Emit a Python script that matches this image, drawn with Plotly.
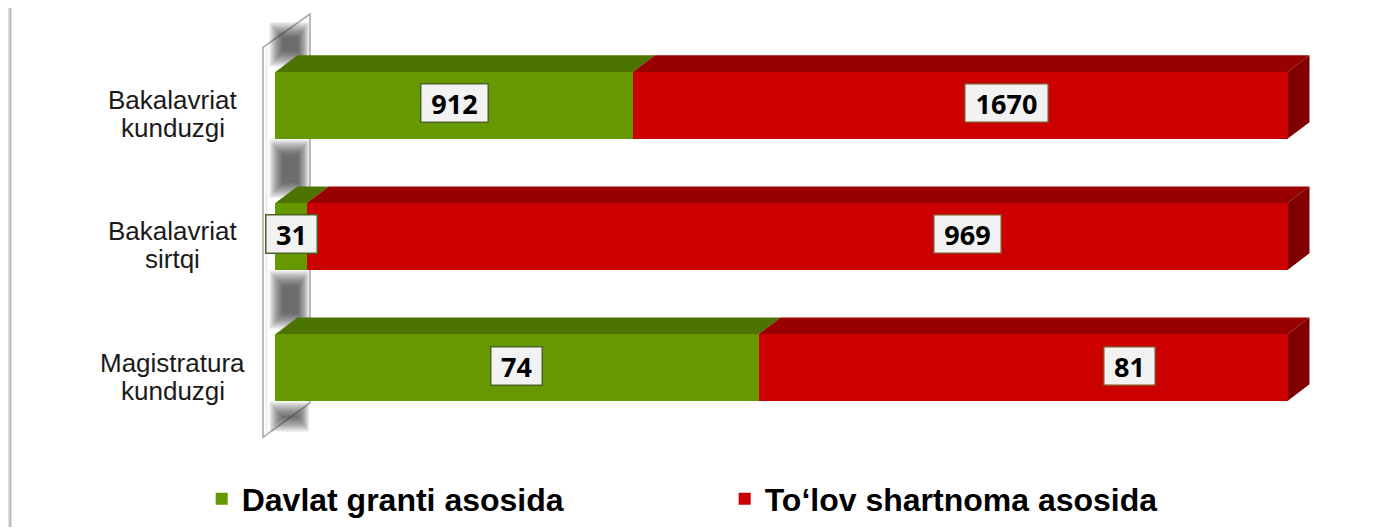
import plotly.graph_objects as go

# Data
categories = ["Bakalavriat kunduzgi", "Bakalavriat sirtqi", "Magistratura kunduzgi"]
grant = [912, 31, 74]
contract = [1670, 969, 81]
series_names = ["Davlat granti asosida", "To‘lov shartnoma asosida"]

# where the red labels sit (percent of bar length)
contract_label_pos = [72.2, 68.4, 84.4]

# colours
GREEN = "#669900"
GREEN_TOP = "#4d7300"
RED = "#cc0000"
RED_TOP = "#990000"
RED_SIDE = "#800000"

BAR_W = 0.51      # bar thickness (category units)
DX = 2.17         # 3d depth along x (percent units)
DY = 0.127        # 3d depth along y (category units)

fig = go.Figure()
fig.add_trace(go.Bar(y=categories, x=grant, name=series_names[0], orientation="h",
                     marker=dict(color=GREEN, line=dict(width=0)), width=BAR_W))
fig.add_trace(go.Bar(y=categories, x=contract, name=series_names[1], orientation="h",
                     marker=dict(color=RED, line=dict(width=0)), width=BAR_W))

shapes = []

# back wall with soft shadows in the gaps
wall = "M -1.22,-0.442 L 3.42,-0.697 L 3.42,2.27 L -1.22,2.532 Z"
shapes.append(dict(type="path", path=wall, xref="x", yref="y", layer="below",
                   fillcolor="white", line=dict(color="#a6a6a6", width=1.5)))
shapes.append(dict(type="line", xref="x", yref="y", layer="below",
                   x0=-0.85, x1=-0.85, y0=-0.46, y1=2.51,
                   line=dict(color="#e0e0e0", width=1)))
n = len(categories)
gaps = [(-0.64, -0.5 * BAR_W - 0.04)]
for i in range(n - 1):
    gaps.append((i + 0.5 * BAR_W, i + 1 - 0.5 * BAR_W - 0.04))
gaps.append((n - 1 + 0.5 * BAR_W, 2.49))
for g0, g1 in gaps:
    for k in range(14):
        shapes.append(dict(type="rect", xref="x", yref="y", layer="below",
                           x0=-0.6 + 0.1 * k, x1=3.35 - 0.085 * k,
                           y0=g0 + 0.005 + 0.009 * k, y1=g1 - 0.009 * k,
                           fillcolor="rgba(45,45,45,0.075)", line=dict(width=0)))

# 3d top / side faces computed from the percentages
for i, cat in enumerate(categories):
    tot = grant[i] + contract[i]
    p_g = grant[i] / tot * 100
    yt = i - BAR_W / 2
    yb = i + BAR_W / 2
    for x0, x1, col in [(0, p_g, GREEN_TOP), (p_g, 100, RED_TOP)]:
        shapes.append(dict(
            type="path", xref="x", yref="y", layer="below",
            path=f"M {x0},{yt} L {x1},{yt} L {x1 + DX},{yt - DY} L {x0 + DX},{yt - DY} Z",
            fillcolor=col, line=dict(width=0)))
    shapes.append(dict(
        type="path", xref="x", yref="y", layer="below",
        path=f"M 100,{yt} L {100 + DX},{yt - DY} L {100 + DX},{yb - DY} L 100,{yb} Z",
        fillcolor=RED_SIDE, line=dict(width=0)))

# outer frame
for px, col in [(-0.2191, "#f2f2f2"), (-0.2182, "#e2e2e2"), (-0.2173, "#cfcfcf"),
                (-0.2164, "#b5b5b5"), (1.0392, "#bdbdbd")]:
    shapes.append(dict(type="line", xref="paper", yref="paper", x0=px, x1=px,
                       y0=1.009, y1=-0.2, line=dict(color=col, width=1.5)))

annotations = []
for i, cat in enumerate(categories):
    lines = cat.split(" ")
    for line, ys in zip(lines, [5, -23]):
        annotations.append(dict(
            x=-0.0665, xref="paper", y=cat, yref="y", xanchor="center", yanchor="middle",
            text=line, showarrow=False, yshift=ys,
            font=dict(family="Liberation Sans, Arial", size=26, color="#1a1a1a")))

    tot = grant[i] + contract[i]
    p_g = grant[i] / tot * 100
    for val, xpos, bc in [(grant[i], p_g / 2, "#4f6228"),
                          (contract[i], contract_label_pos[i], "#8a4a20")]:
        txt = str(val)
        annotations.append(dict(
            x=xpos, xref="x", y=cat, yref="y", text=txt, showarrow=False,
            xanchor="center", yanchor="middle", yshift=2,
            width=len(txt) * 16 + 14, height=33,
            bgcolor="#f2f2f2", bordercolor=bc, borderwidth=1.5, borderpad=2,
            font=dict(family="Open Sans, Liberation Sans", size=27, color="black",
                      weight="bold")))

fig.update_layout(
    width=1365, height=521,
    barmode="stack", barnorm="percent",
    paper_bgcolor="white", plot_bgcolor="white",
    margin=dict(l=237, r=45, t=3, b=80.2),
    xaxis=dict(range=[-3, 104], visible=False, fixedrange=True),
    yaxis=dict(range=[2.56, -0.72], showticklabels=False, showgrid=False,
               zeroline=False, showline=False, ticks=""),
    shapes=shapes,
    annotations=annotations,
    showlegend=True,
    legend=dict(orientation="h", x=-0.04, xanchor="left", y=-0.135, yanchor="middle",
                entrywidth=478, entrywidthmode="pixels", itemwidth=30,
                traceorder="normal",
                font=dict(family="Liberation Sans Narrow, Arial Narrow, Liberation Sans",
                          size=32, color="black", weight="bold")),
)

fig.write_html("out.html")
